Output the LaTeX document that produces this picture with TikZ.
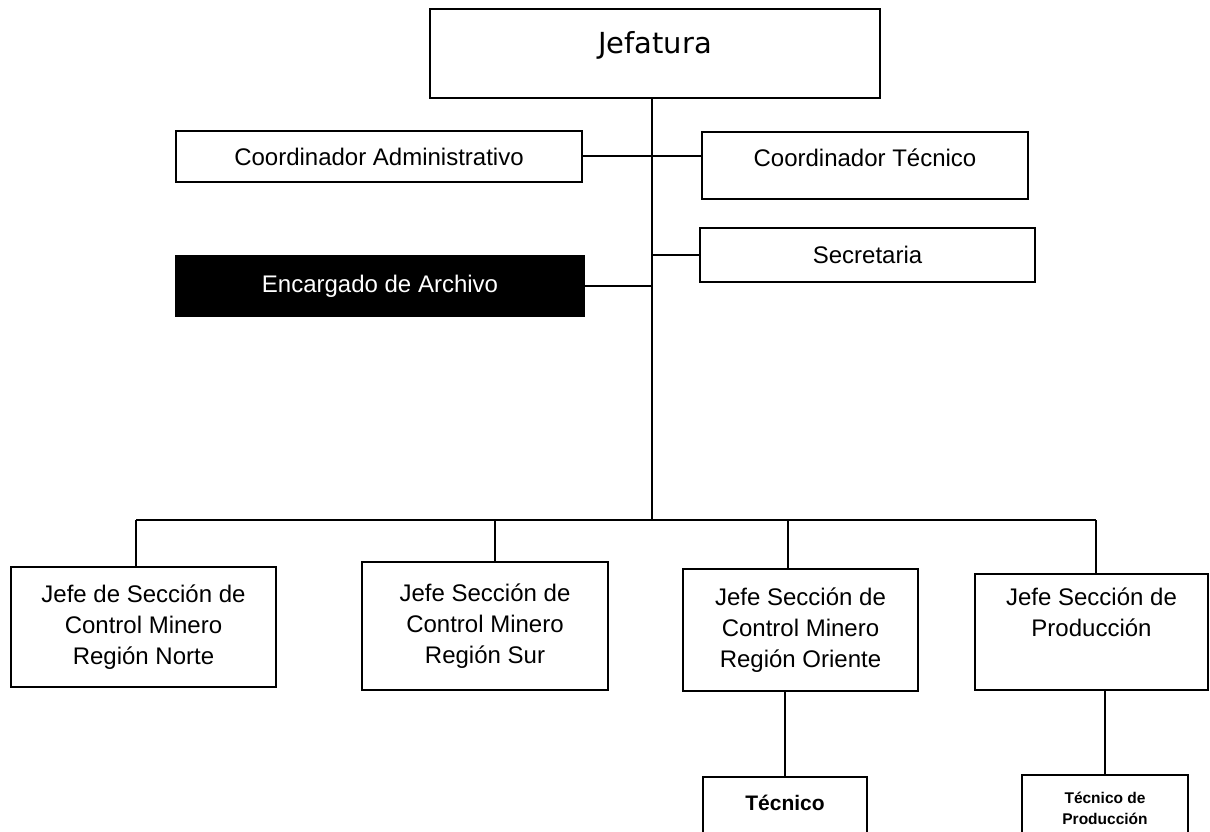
\documentclass[tikz,border=0pt]{standalone}
\usepackage{fontspec}
\setmainfont{Liberation Sans}
\newfontfamily\jeffont{DejaVu Sans}
\begin{document}
\begin{tikzpicture}[x=1pt,y=-1pt,
  box/.style={draw=black,line width=2.2pt,rectangle,inner sep=0pt,align=center,
    font=\fontsize{24}{31}\selectfont},
  link/.style={draw=black,line width=2pt}]
\useasboundingbox (0,0) rectangle (1210,832);
\clip (0,0) rectangle (1210,832);
\fill[white] (0,0) rectangle (1210,832);
% top
\node[box,minimum width=450pt,minimum height=89pt,font=\jeffont\fontsize{29}{34}\selectfont,
  text height=44.5pt,text depth=44.5pt] (jef) at (655,53.5) {Jefatura};
\node[box,minimum width=406pt,minimum height=51pt] (cadm) at (379,156.5) {Coordinador Administrativo};
\node[box,minimum width=326pt,minimum height=67pt,text height=34.5pt,text depth=32.5pt] (ctec) at (865,165.5) {Coordinador Técnico};
\node[box,minimum width=335pt,minimum height=54pt] (sec) at (867.5,255) {Secretaria};
\node[box,fill=black,text=white,minimum width=408pt,minimum height=60pt] (enc) at (380,286) {Encargado de Archivo};
% lower level
\node[box,minimum width=265pt,minimum height=120pt] (b1) at (143.5,627) {Jefe de Sección de\\Control Minero\\Región Norte};
\node[box,minimum width=246pt,minimum height=128pt] (b2) at (485,626) {Jefe Sección de\\Control Minero\\Región Sur};
\node[box,minimum width=235pt,minimum height=122pt] (b3) at (800.5,630) {Jefe Sección de\\Control Minero\\Región Oriente};
\node[box,minimum width=233pt,minimum height=116pt] (b4) at (1091.5,632) {Jefe Sección de\\Producción\\\strut};
\node[box,minimum width=164pt,minimum height=66pt,font=\bfseries\fontsize{21}{26}\selectfont,text height=33pt,text depth=33pt] (tec) at (785,810) {Técnico};
\node[box,minimum width=166pt,minimum height=66pt,font=\bfseries\fontsize{15.5}{21}\selectfont] (tdp) at (1105,808) {Técnico de\\Producción};
% connectors
\coordinate (bus) at (652,520);
\draw[link] (jef.south -| bus) -- (bus);
\draw[link] (cadm.east) -- (ctec.west |- cadm.east);
\draw[link] (sec.west) -- (sec.west -| bus);
\draw[link] (enc.east) -- (enc.east -| bus);
\draw[link] ([xshift=-7.5pt]b1.north |- bus) -- ([xshift=4.5pt]b4.north |- bus);
\draw[link] ([xshift=-7.5pt]b1.north |- bus) -- ([xshift=-7.5pt]b1.north);
\draw[link] ([xshift=10pt]b2.north |- bus) -- ([xshift=10pt]b2.north);
\draw[link] ([xshift=-12.5pt]b3.north |- bus) -- ([xshift=-12.5pt]b3.north);
\draw[link] ([xshift=4.5pt]b4.north |- bus) -- ([xshift=4.5pt]b4.north);
\draw[link] (tec.north) -- (tec.north |- b3.south);
\draw[link] (tdp.north) -- (tdp.north |- b4.south);
\end{tikzpicture}
\end{document}
